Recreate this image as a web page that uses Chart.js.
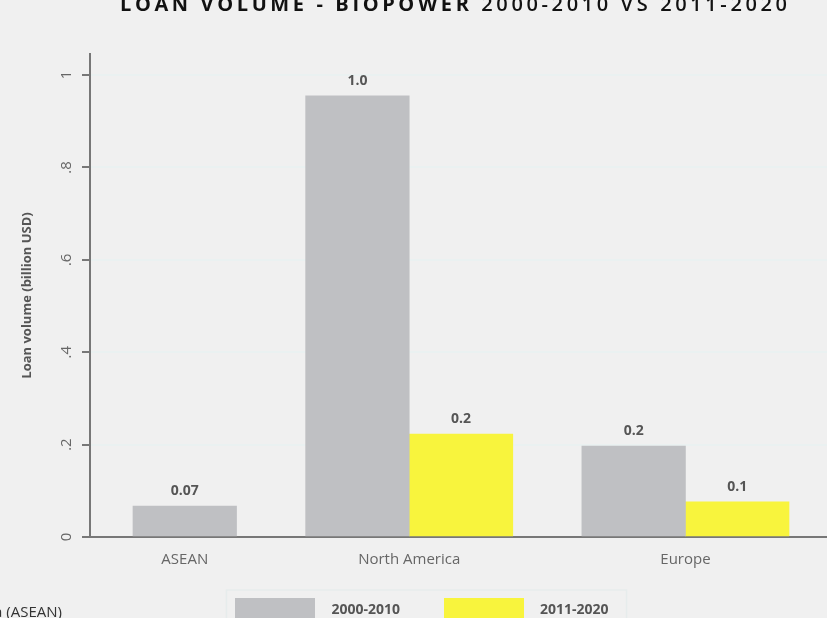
<!DOCTYPE html>
<html>
<head>
<meta charset="utf-8">
<script src="https://cdn.jsdelivr.net/npm/chart.js@4"></script>
<style>
  html, body { margin: 0; padding: 0; background: #f0f0f0; overflow: hidden; }
  #wrap { width: 827px; height: 618px; overflow: hidden; }
</style>
</head>
<body>
<div id="wrap"><canvas id="loanChart" width="850" height="640"></canvas></div>
<script>
const categories = ["ASEAN", "North America", "Europe"];
const seriesNames = ["2000-2010", "2011-2020"];
const seriesColors = ["#bfc0c3", "#f8f43d"];
const loans2000 = [0.067, 0.955, 0.197]; // billion USD
const loans2011 = [null, 0.223, 0.076];
const labels2000 = ["0.07", "1.0", "0.2"];
const labels2011 = [null, "0.2", "0.1"];
const yTicks = [0, 0.2, 0.4, 0.6, 0.8, 1];
const yTickLabels = ["0", ".2", ".4", ".6", ".8", "1"];

const titleBold = "LOAN VOLUME - BIOPOWER";
const titleRest = "2000-2010 VS 2011-2020";
const footnote = "a (ASEAN)";

// one unit per bar, each group only as wide as the bars it has
const groupGap = 0.667;
const edge = 0.415;

const points2000 = [];
const points2011 = [];
const groupCenters = [];
let cursor = 0;
categories.forEach(function (cat, i) {
  let slot = 0;
  if (loans2000[i] !== null) {
    points2000.push({ x: cursor + slot + 0.5, y: loans2000[i], label: labels2000[i] });
    slot++;
  }
  if (loans2011[i] !== null) {
    points2011.push({ x: cursor + slot + 0.5, y: loans2011[i], label: labels2011[i] });
    slot++;
  }
  groupCenters.push(cursor + slot / 2);
  cursor += slot + groupGap;
});
const xMax = cursor - groupGap + edge;

// legend swatches as small canvases
function swatch(color) {
  const c = document.createElement("canvas");
  c.width = 80;
  c.height = 24;
  const g = c.getContext("2d");
  g.fillStyle = color;
  g.fillRect(0, 0, 80, 24);
  return c;
}

const axisGray = "#777777";

const titlePlugin = {
  id: "spacedTitle",
  afterDraw(chart) {
    const ctx = chart.ctx;
    const parts = [
      { text: titleBold + " ", font: 'bold 20px "Open Sans"' },
      { text: titleRest, font: '600 20px "Open Sans"' }
    ];
    // spread the letters over the title width
    let plain = 0, count = 0;
    parts.forEach(function (p) {
      ctx.font = p.font;
      for (const ch of p.text) { plain += ctx.measureText(ch).width; count++; }
    });
    const spacing = (667 - plain) / (count - 1);
    let x = 120;
    ctx.save();
    ctx.fillStyle = "#111111";
    ctx.textBaseline = "alphabetic";
    parts.forEach(function (p) {
      ctx.font = p.font;
      for (const ch of p.text) {
        ctx.fillText(ch, x, 11);
        x += ctx.measureText(ch).width + spacing;
      }
    });
    ctx.font = '15px "Open Sans"';
    ctx.fillStyle = "#333333";
    ctx.textAlign = "right";
    ctx.fillText(footnote, 62, 617);
    ctx.restore();
  }
};

const barLabelPlugin = {
  id: "barLabels",
  afterDatasetsDraw(chart) {
    const ctx = chart.ctx;
    ctx.save();
    ctx.font = 'bold 14px "Open Sans"';
    ctx.fillStyle = "#555555";
    ctx.textAlign = "center";
    ctx.textBaseline = "middle";
    chart.data.datasets.forEach(function (ds, di) {
      chart.getDatasetMeta(di).data.forEach(function (bar, j) {
        ctx.fillText(ds.data[j].label, bar.x, bar.y - 15);
      });
    });
    ctx.restore();
  }
};

const legendFramePlugin = {
  id: "legendFrame",
  afterDraw(chart) {
    const boxes = chart.legend && chart.legend.legendHitBoxes;
    if (!boxes || !boxes.length) return;
    const first = boxes[0];
    const last = boxes[boxes.length - 1];
    const ctx = chart.ctx;
    ctx.save();
    ctx.strokeStyle = "#e6ecec";
    ctx.lineWidth = 1.5;
    ctx.strokeRect(first.left + 1, first.top - 13, last.left + last.width - first.left + 17, 60);
    ctx.restore();
  }
};

const loanChart = new Chart(document.getElementById("loanChart"), {
  type: "bar",
  data: {
    datasets: [
      {
        label: seriesNames[0],
        data: points2000,
        backgroundColor: seriesColors[0],
        pointStyle: swatch(seriesColors[0]),
        borderWidth: 0
      },
      {
        label: seriesNames[1],
        data: points2011,
        backgroundColor: seriesColors[1],
        pointStyle: swatch(seriesColors[1]),
        borderWidth: 0
      }
    ]
  },
  options: {
    responsive: false,
    animation: false,
    grouped: false,
    categoryPercentage: 1,
    barPercentage: 1,
    layout: { padding: { top: 54, right: 18, bottom: 13, left: 2 } },
    plugins: {
      title: { display: false },
      tooltip: { enabled: false },
      legend: {
        position: "bottom",
        labels: {
          usePointStyle: true,
          pointStyleWidth: 99,
          padding: 34,
          color: "#555555",
          font: { family: "Open Sans", size: 14, weight: "bold" }
        }
      }
    },
    scales: {
      x: {
        type: "linear",
        offset: false,
        min: -edge,
        max: xMax,
        afterBuildTicks: function (axis) {
          axis.ticks = groupCenters.map(function (v) { return { value: v }; });
        },
        afterFit: function (axis) { axis.height = 32; },
        grid: { display: false, drawTicks: false, offset: false },
        border: { display: true, color: axisGray, width: 2 },
        ticks: {
          autoSkip: false,
          maxRotation: 0,
          padding: 14,
          color: "#666666",
          font: { family: "Open Sans", size: 15 },
          callback: function (value, index) { return categories[index]; }
        }
      },
      y: {
        min: 0,
        max: 1.0455,
        afterBuildTicks: function (axis) {
          axis.ticks = yTicks.map(function (v) { return { value: v }; });
        },
        afterFit: function (axis) { axis.width = 88; },
        grid: {
          color: "#eaf1f1",
          lineWidth: 2,
          tickColor: axisGray,
          tickWidth: 2,
          tickLength: 8
        },
        border: { display: true, color: axisGray, width: 2 },
        ticks: {
          minRotation: 90,
          maxRotation: 90,
          crossAlign: "center",
          padding: 9,
          color: "#666666",
          font: { family: "Open Sans", size: 15 },
          callback: function (value, index) { return yTickLabels[index]; }
        },
        title: {
          display: true,
          text: "Loan volume (billion USD)",
          color: "#555555",
          padding: { top: 17, bottom: 0 },
          font: { family: "Open Sans", size: 13, weight: "bold" }
        }
      }
    }
  },
  plugins: [titlePlugin, barLabelPlugin, legendFramePlugin]
});
</script>
</body>
</html>
